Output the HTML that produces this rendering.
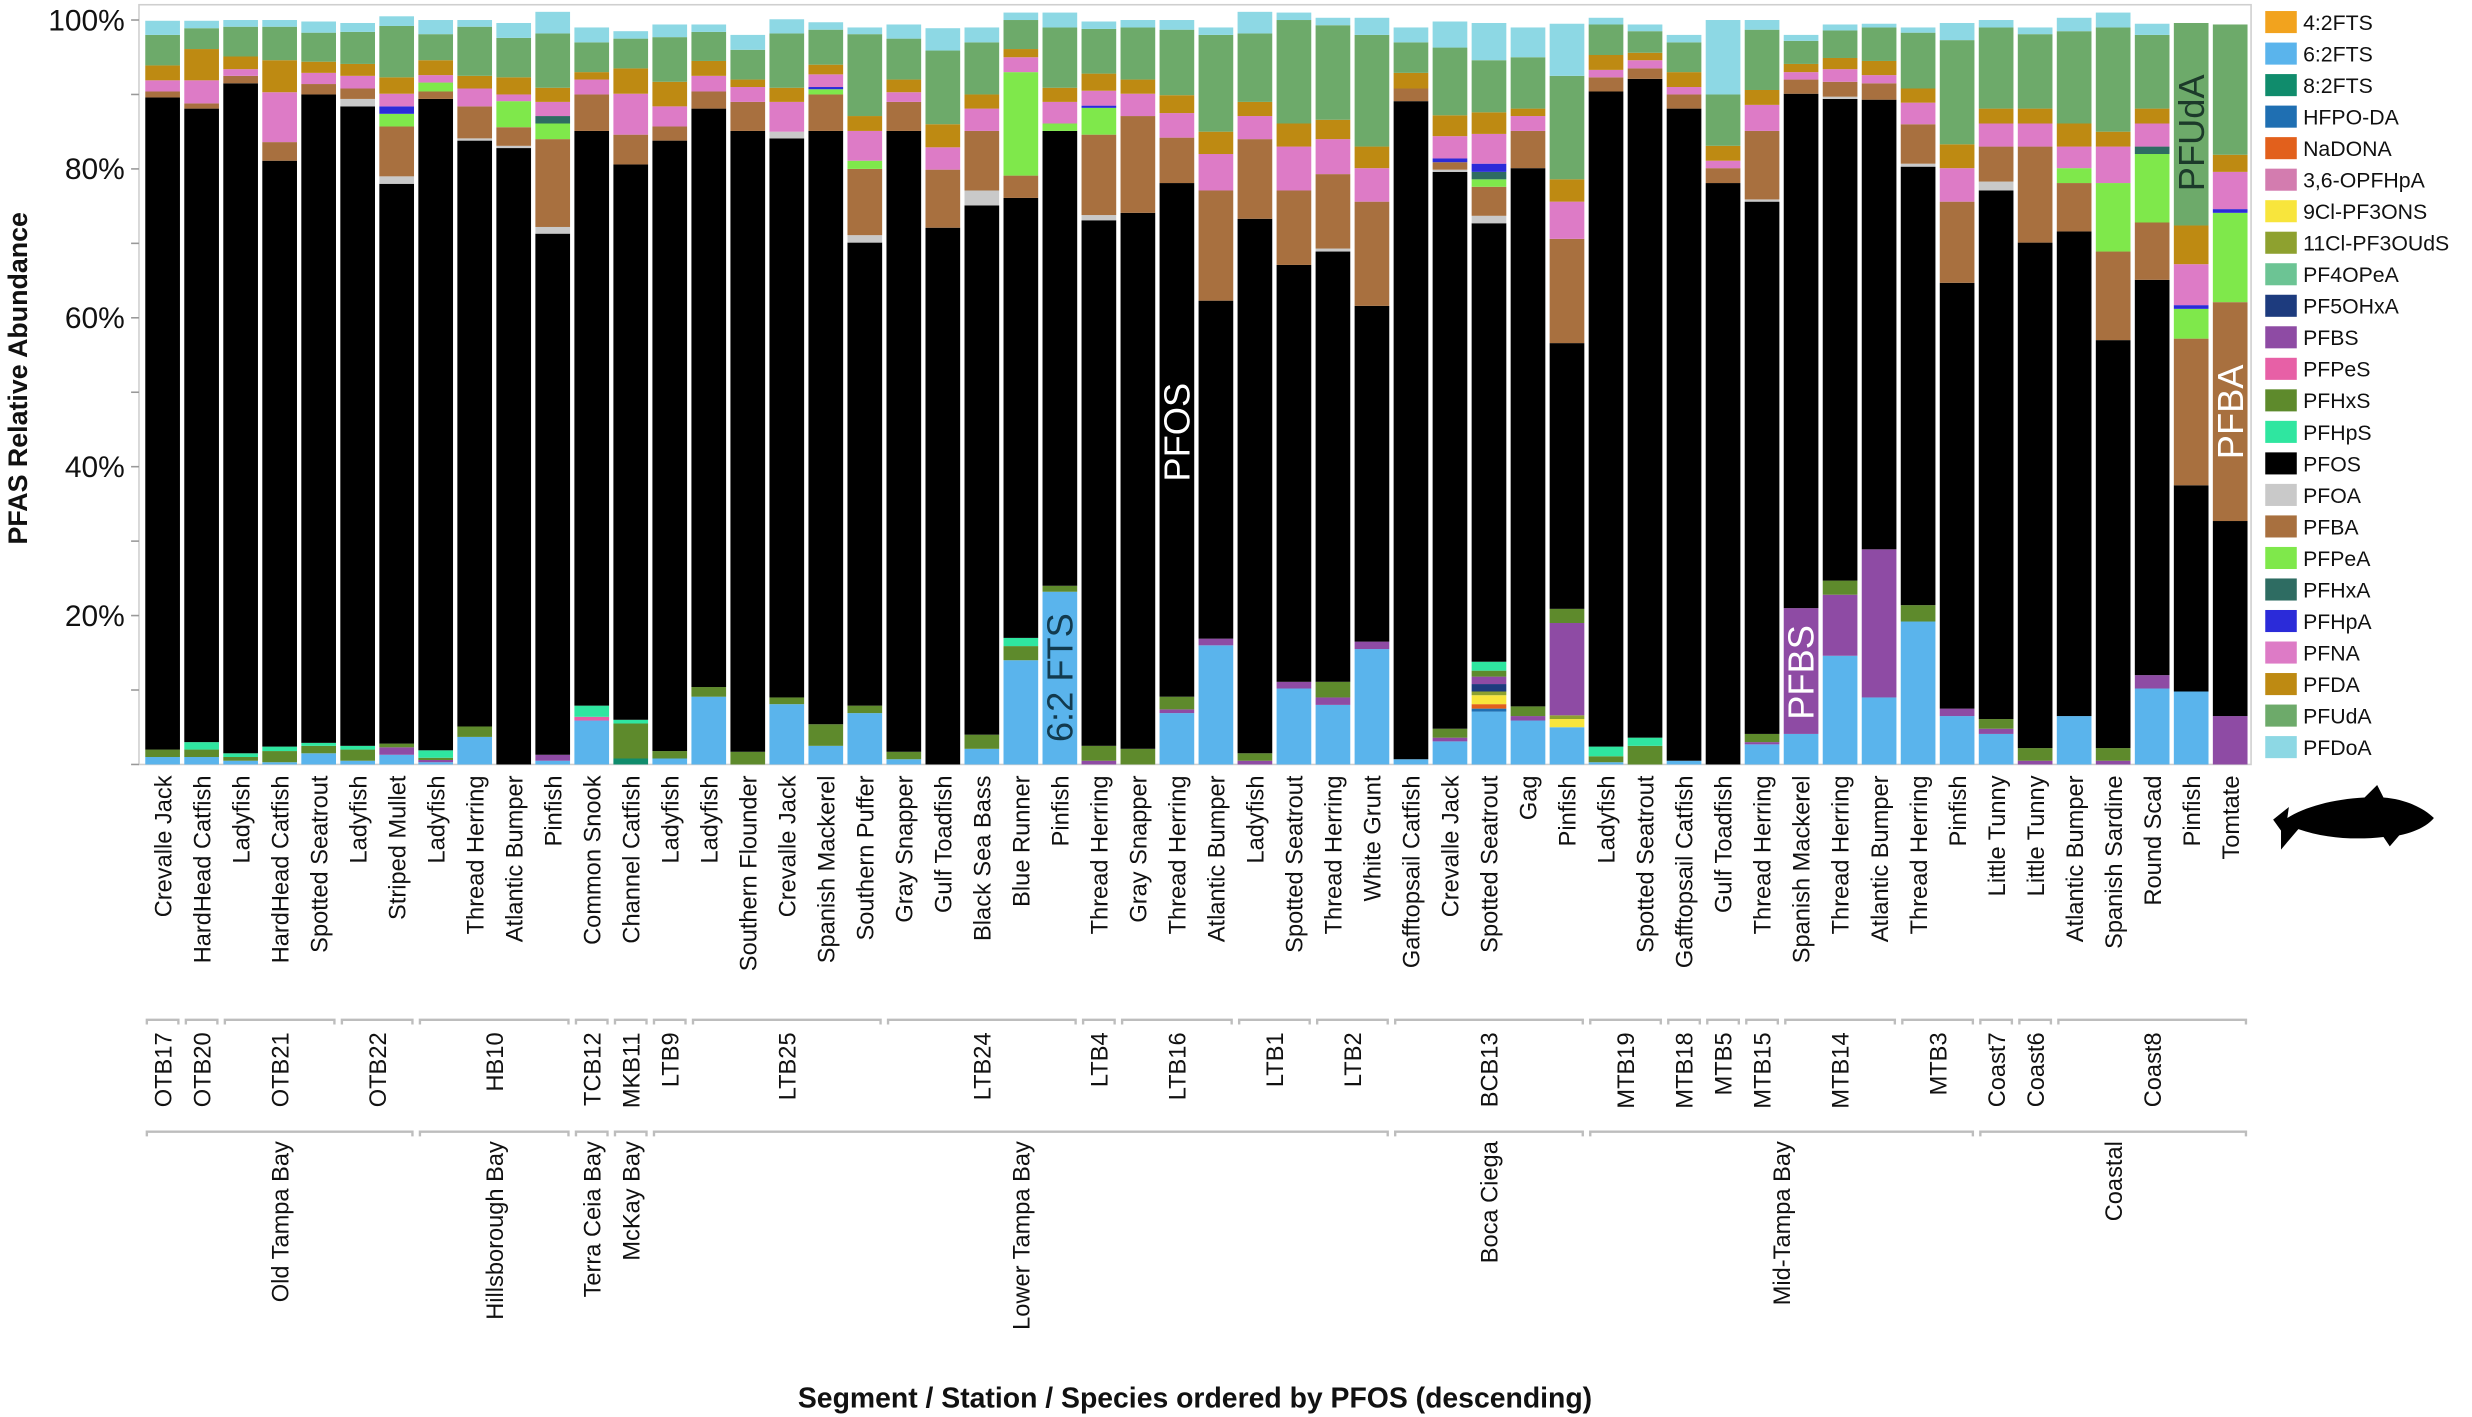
<!DOCTYPE html>
<html><head><meta charset="utf-8"><style>
html,body{margin:0;padding:0;background:#fff;}
svg{display:block;font-family:"Liberation Sans","DejaVu Sans",sans-serif;}
</style></head><body>
<svg id="chart" width="2472" height="1417" viewBox="0 0 1568 899" xmlns="http://www.w3.org/2000/svg"></svg>
<script>
const species=["Crevalle Jack","HardHead Catfish","Ladyfish","HardHead Catfish","Spotted Seatrout","Ladyfish","Striped Mullet","Ladyfish","Thread Herring","Atlantic Bumper","Pinfish","Common Snook","Channel Catfish","Ladyfish","Ladyfish","Southern Flounder","Crevalle Jack","Spanish Mackerel","Southern Puffer","Gray Snapper","Gulf Toadfish","Black Sea Bass","Blue Runner","Pinfish","Thread Herring","Gray Snapper","Thread Herring","Atlantic Bumper","Ladyfish","Spotted Seatrout","Thread Herring","White Grunt","Gafftopsail Catfish","Crevalle Jack","Spotted Seatrout","Gag","Pinfish","Ladyfish","Spotted Seatrout","Gafftopsail Catfish","Gulf Toadfish","Thread Herring","Spanish Mackerel","Thread Herring","Atlantic Bumper","Thread Herring","Pinfish","Little Tunny","Little Tunny","Atlantic Bumper","Spanish Sardine","Round Scad","Pinfish","Tomtate"];
const stations=[["OTB17",0,0],["OTB20",1,1],["OTB21",2,4],["OTB22",5,6],["HB10",7,10],["TCB12",11,11],["MKB11",12,12],["LTB9",13,13],["LTB25",14,18],["LTB24",19,23],["LTB4",24,24],["LTB16",25,27],["LTB1",28,29],["LTB2",30,31],["BCB13",32,36],["MTB19",37,38],["MTB18",39,39],["MTB5",40,40],["MTB15",41,41],["MTB14",42,44],["MTB3",45,46],["Coast7",47,47],["Coast6",48,48],["Coast8",49,53]];
const segments=[["Old Tampa Bay",0,6],["Hillsborough Bay",7,10],["Terra Ceia Bay",11,11],["McKay Bay",12,12],["Lower Tampa Bay",13,31],["Boca Ciega",32,36],["Mid-Tampa Bay",37,46],["Coastal",47,53]];
const yTicks=[0,20,40,60,80,100];
const seriesNames=["4:2FTS","6:2FTS","8:2FTS","HFPO-DA","NaDONA","3,6-OPFHpA","9Cl-PF3ONS","11Cl-PF3OUdS","PF4OPeA","PF5OHxA","PFBS","PFPeS","PFHxS","PFHpS","PFOS","PFOA","PFBA","PFPeA","PFHxA","PFHpA","PFNA","PFDA","PFUdA","PFDoA"];
const seriesColors=["#F2A31E","#5AB4EC","#108C6C","#1F6FB2","#E2601C","#D37CAF","#F8E53C","#8EA12F","#6CC494","#1D3B7E","#8E4BA4","#E760A6","#5E8A2C","#2FE6A0","#000000","#C9C9C9","#A8703F","#7FE84B","#2E6C62","#2B2BD9","#DD7BC6","#BE8A12","#6DAA6A","#8DD8E4"];
const s42fts=[0,0,0,0,0,0,0,0,0,0,0,0,0,0,0,0,0,0,0,0,0,0,0,0,0,0,0,0,0,0,0,0,0,0,0,0,0,0,0,0,0,0,0,0,0,0,0,0,0,0,0,0,0,0];
const s62fts=[1,1,.5,.3,1.5,.5,1.3,.3,3.7,0,.5,5.9,0,.8,9.1,0,8.1,2.5,6.9,.7,0,2.1,14,23.2,0,0,6.9,16,0,10.2,8,15.5,.7,3.1,7.1,5.9,5,.3,0,.5,0,2.7,4.1,14.6,9,19.2,6.5,4.1,0,6.5,0,10.2,9.8,0];
const s82fts=[0,0,0,0,0,0,0,0,0,0,0,0,.8,0,0,0,0,0,0,0,0,0,0,0,0,0,0,0,0,0,0,0,0,0,0,0,0,0,0,0,0,0,0,0,0,0,0,0,0,0,0,0,0,0];
const sHfpo=[0,0,0,0,0,0,0,0,0,0,0,0,0,0,0,0,0,0,0,0,0,0,0,0,0,0,0,0,0,0,0,0,0,0,.4,0,0,0,0,0,0,0,0,0,0,0,0,0,0,0,0,0,0,0];
const sNadona=[0,0,0,0,0,0,0,0,0,0,0,0,0,0,0,0,0,0,0,0,0,0,0,0,0,0,0,0,0,0,0,0,0,0,.6,0,0,0,0,0,0,0,0,0,0,0,0,0,0,0,0,0,0,0];
const sOpfhpa=[0,0,0,0,0,0,0,0,0,0,0,0,0,0,0,0,0,0,0,0,0,0,0,0,0,0,0,0,0,0,0,0,0,0,0,0,0,0,0,0,0,0,0,0,0,0,0,0,0,0,0,0,0,0];
const s9cl=[0,0,0,0,0,0,0,0,0,0,0,0,0,0,0,0,0,0,0,0,0,0,0,0,0,0,0,0,0,0,0,0,0,0,1.2,0,1.1,0,0,0,0,0,0,0,0,0,0,0,0,0,0,0,0,0];
const s11cl=[0,0,0,0,0,0,0,0,0,0,0,0,0,0,0,0,0,0,0,0,0,0,0,0,0,0,0,0,0,0,0,0,0,0,.5,0,.5,0,0,0,0,0,0,0,0,0,0,0,0,0,0,0,0,0];
const sPf4opea=[0,0,0,0,0,0,0,0,0,0,0,0,0,0,0,0,0,0,0,0,0,0,0,0,0,0,0,0,0,0,0,0,0,0,0,0,0,0,0,0,0,0,0,0,0,0,0,0,0,0,0,0,0,0];
const sPf5ohxa=[0,0,0,0,0,0,0,0,0,0,0,0,0,0,0,0,0,0,0,0,0,0,0,0,0,0,0,0,0,0,0,0,0,0,1,0,0,0,0,0,0,0,0,0,0,0,0,0,0,0,0,0,0,0];
const sPfbs=[0,0,0,0,0,0,1,.3,0,0,.8,0,0,0,0,0,0,0,0,0,0,0,0,0,.5,0,.5,.9,.5,.9,1,1,0,.5,1,.6,12.4,0,0,0,0,.3,16.9,8.2,19.9,0,1,.7,.5,0,.5,1.8,0,6.5];
const sPfpes=[0,0,0,0,0,0,0,0,0,0,0,.5,0,0,0,0,0,0,0,0,0,0,0,0,0,0,0,0,0,0,0,0,0,0,0,0,0,0,0,0,0,0,0,0,0,0,0,0,0,0,0,0,0,0];
const sPfhxs=[1,1,.5,1.5,1,1.5,.5,.3,1.4,0,0,0,4.7,1,1.3,1.7,.9,2.9,1,1,0,1.9,1.9,.8,2,2.1,1.7,0,1,0,2.1,0,0,1.2,.8,1.3,1.9,.8,2.5,0,0,1.1,0,1.9,0,2.2,0,1.3,1.7,0,1.7,0,0,0];
const sPfhps=[0,1,.5,.6,.4,.5,0,1,0,0,0,1.5,.5,0,0,0,0,0,0,0,0,0,1.1,0,0,0,0,0,0,0,0,0,0,0,1.2,0,0,1.3,1.1,0,0,0,0,0,0,0,0,0,0,0,0,0,0,0];
const sPfos=[87.6,85.1,90,78.7,87.1,85.9,75.2,87.5,78.7,82.8,70,77.2,74.6,82,77.7,83.4,75.1,79.7,62.2,83.4,72.1,71.1,59.1,61.1,70.6,72,69,45.4,71.8,56,57.8,45.1,88.4,74.8,58.9,72.3,35.7,88,88.5,87.6,78.1,71.5,69.1,64.7,60.4,58.9,57.2,71,67.9,65.1,54.8,53.1,27.7,26.2];
const sPfoa=[0,0,0,0,0,1,1,0,.3,.3,.9,0,0,0,0,0,.9,0,1,0,0,2,0,0,.7,0,0,0,0,0,.4,0,0,.3,1,0,0,0,0,0,0,.3,0,.3,0,.4,0,1.2,0,0,0,0,0,0];
const sPfba=[.8,.7,1,2.5,1.4,1.4,6.7,1,4.3,2.5,11.8,4.9,4,1.9,2.3,3.9,0,4.9,8.9,3.9,7.8,8,3,0,10.8,13,6.1,14.8,10.7,10,10,14,1.7,1,3.9,5,14,1.9,1.4,1.9,2,9.2,1.9,2,2.2,5.3,10.9,4.7,12.9,6.5,11.9,7.7,19.7,29.4];
const sPfpea=[0,0,0,0,0,0,1.7,1.2,0,3.5,2.1,0,0,0,0,0,0,.7,1.1,0,0,0,13.9,1,3.6,0,0,0,0,0,0,0,0,0,1,0,0,0,0,0,0,0,0,0,0,0,0,0,0,2,9.2,9.2,4,12];
const sPfhxa=[0,0,0,0,0,0,0,0,0,0,1,0,0,0,0,0,0,0,0,0,0,0,0,0,0,0,0,0,0,0,0,0,0,0,1,0,0,0,0,0,0,0,0,0,0,0,0,0,0,0,0,1,0,0];
const sPfhpa=[0,0,0,0,0,0,1,0,0,0,0,0,0,0,0,0,0,.3,0,0,0,0,0,0,.3,0,0,0,0,0,0,0,0,.5,1.1,0,0,0,0,0,0,0,0,0,0,0,0,0,0,0,0,0,.5,.5];
const sPfna=[1.5,3.1,.9,6.7,1.5,1.7,1.7,1,2.4,.9,1.9,2,5.5,2.7,2.1,2,4,1.7,4,1.3,3,3,2,2.9,2,3,3.3,4.9,3.1,5.9,4.7,4.5,0,3,4,2,5,1,1.1,1,1,3.5,1,1.7,1.1,2.9,4.5,3.1,3.1,2.9,4.9,3.1,5.5,5];
const sPfda=[2,4.2,1.7,4.3,1.5,1.6,2.2,2,1.7,2.3,1.9,1,3.4,3.3,2,1,1.9,1.3,2,1.7,3.1,1.9,1.1,1.9,2.3,1.9,2.4,3,1.9,3.1,2.6,2.9,2.1,2.8,2.9,1,3,2,1,2,2,2,1.1,1.5,1.9,1.9,3.2,2,2,3.1,2,2,5.2,2.3];
const sPfuda=[4.1,2.8,4,4.5,3.9,4.3,6.9,3.5,6.6,5.3,7.3,4,4,6,3.9,4,7.3,4.7,11,5.5,9.9,7,3.9,8.1,6,7,8.8,13,9.2,13.9,12.7,15,4.1,9.1,7,6.9,13.9,4.1,2.9,4,6.9,8.1,3.1,3.7,4.5,7.5,14,10.9,10,12.4,14,9.9,27.2,17.5];
const sPfdoa=[1.9,1,.9,.9,1.5,1.2,1.3,1.9,.9,2,2.9,2,1,1.7,1,2,1.9,1,.9,1.9,3,2,1,2,1,1,1.3,1,2.9,1,1,2.3,2,3.5,5,4,7,.9,.9,1,10,1.3,.8,.8,.5,.7,2.3,1,.9,1.8,2,1.5,0,0];
const seriesValues=[s42fts,s62fts,s82fts,sHfpo,sNadona,sOpfhpa,s9cl,s11cl,sPf4opea,sPf5ohxa,sPfbs,sPfpes,sPfhxs,sPfhps,sPfos,sPfoa,sPfba,sPfpea,sPfhxa,sPfhpa,sPfna,sPfda,sPfuda,sPfdoa];
const annotations=[["6:2 FTS",23,3,"#123a4e"],["PFOS",26,38,"#ffffff"],["PFBS",42,6,"#ffffff"],["PFUdA",52,77,"#1c3a2a"],["PFBA",53,41,"#ffffff"]];

const NS="http://www.w3.org/2000/svg";
const svg=document.getElementById('chart');
const X0=103,PITCH=24.75,BW=22,Y0=485,YK=4.723;
function xScale(i){return X0+PITCH*i;}
function yScale(v){return Y0-YK*v;}
function mk(tag,attrs,parent){const e=document.createElementNS(NS,tag);for(const k in attrs)e.setAttribute(k,attrs[k]);(parent||svg).appendChild(e);return e;}

// frame
const frame=mk('rect',{x:88,y:3,width:1340,height:482,fill:'none',stroke:'#cfcfcf','stroke-width':1});



// y axis ticks
const yAxis=mk('g',{});


for(let v=0;v<=100;v+=10){
  const tk=mk('line',{x1:83,x2:88,y1:yScale(v),y2:yScale(v),stroke:'#999','stroke-width':1},yAxis);
  
  
}
yTicks.forEach(v=>{
  if(v===0)return;
  const t=mk('text',{x:79,y:yScale(v)+6.5,'text-anchor':'end','font-size':19,fill:'#111'},yAxis);
  t.textContent=v+'%';
  
  
});
const yt=mk('text',{transform:'translate(17,240) rotate(-90)','text-anchor':'middle','font-size':17,'font-weight':'bold',fill:'#111'});
yt.textContent='PFAS Relative Abundance';



// bars
const barsG=mk('g',{});


for(let i=0;i<species.length;i++){
  let cum=0;
  const g=mk('g',{},barsG);
  
  
  for(let s=0;s<seriesValues.length;s++){
    const v=seriesValues[s][i];
    if(!v)continue;
    const r=mk('rect',{x:xScale(i)-BW/2,y:yScale(cum+v),width:BW,height:YK*v,fill:seriesColors[s]},g);
    
    
    cum+=v;
  }
}

// annotations
annotations.forEach(a=>{
  const t=mk('text',{transform:`translate(${xScale(a[1])+8},${yScale(a[2])}) rotate(-90)`,'font-size':23,fill:a[3]});
  t.textContent=a[0];
  
  
});

// species labels
species.forEach((n,i)=>{
  const t=mk('text',{transform:`translate(${xScale(i)+5.5},492) rotate(-90)`,'text-anchor':'end','font-size':15,fill:'#111'});
  t.textContent=n;
  
  
});
function bracket(list,y,ty,name){
  list.forEach(s=>{
    const x1=xScale(s[1])-11,x2=xScale(s[2])+11;
    const p=mk('path',{d:`M${x1+1},${y+3}V${y}H${x2-1}V${y+3}`,fill:'none',stroke:'#bdbdbd','stroke-width':1.5});
    
    
    const t=mk('text',{transform:`translate(${(xScale(s[1])+xScale(s[2]))/2+5.5},${ty}) rotate(-90)`,'text-anchor':'end','font-size':15,fill:'#111'});
    t.textContent=s[0];
    
    
  });
}
bracket(stations,647,655,'station');
bracket(segments,718,724,'segment');

const xt=mk('text',{x:758,y:893,'text-anchor':'middle','font-size':18,'font-weight':'bold',fill:'#111'});
xt.textContent='Segment / Station / Species ordered by PFOS (descending)';



// legend
const lg=mk('g',{});


seriesNames.forEach((n,k)=>{
  const e=mk('g',{},lg);
  
  
  mk('rect',{x:1437,y:7+20*k,width:20,height:14,fill:seriesColors[k]},e);
  const t=mk('text',{x:1461,y:19+20*k,'font-size':13.5,fill:'#111'},e);
  t.textContent=n;
});

// fish icon
const fish=mk('path',{d:'M1442,520 L1452,512 L1451,519 C1462,512 1480,507 1500,506 L1508,498 L1512,506 C1525,507 1537,512 1544,519 C1540,524 1532,528 1522,530 L1516,537 L1512,531 C1495,533 1475,532 1458,526 L1447,539 L1447,527 Z',fill:'#000'});


</script>
</body></html>
